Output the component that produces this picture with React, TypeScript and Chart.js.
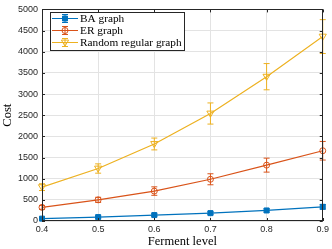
import React, { useEffect, useRef } from "react";
import { Chart, registerables } from "chart.js";

Chart.register(...registerables);

const levels = [0.4, 0.5, 0.6, 0.7, 0.8, 0.9];
const baCost = [56, 93, 140, 186, 249, 335];
const baErr = [20, 25, 30, 35, 40, 55];
const erCost = [322, 500, 707, 986, 1320, 1660];
const erErr = [45, 60, 100, 130, 165, 220];
const rrCost = [800, 1240, 1820, 2540, 3410, 4358];
const rrErr = [80, 110, 140, 250, 310, 400];
const seriesLabels = ["BA graph", "ER graph", "Random regular graph"];
const colors = ["#0072BD", "#D95319", "#EDB120"];
const yTicks = [0, 500, 1000, 1500, 2000, 2500, 3000, 3500, 4000, 4500, 5000];
const xTicks = [0.4, 0.5, 0.6, 0.7, 0.8, 0.9];
const errs = [baErr, erErr, rrErr];

const boxColor = "#262626";

function drawMarker(ctx: CanvasRenderingContext2D, kind: number, x: number, y: number, color: string) {
  ctx.save();
  ctx.strokeStyle = color;
  ctx.fillStyle = color;
  ctx.lineWidth = 1;
  ctx.beginPath();
  if (kind === 0) {
    ctx.rect(x - 2.5, y - 2.5, 5, 5);
    ctx.fill();
    ctx.stroke();
  } else if (kind === 1) {
    ctx.arc(x, y, 3, 0, Math.PI * 2);
    ctx.stroke();
  } else {
    ctx.moveTo(x - 3.6, y - 2.4);
    ctx.lineTo(x + 3.6, y - 2.4);
    ctx.lineTo(x, y + 3.6);
    ctx.closePath();
    ctx.stroke();
  }
  ctx.restore();
}

function drawErr(ctx: CanvasRenderingContext2D, x: number, y1: number, y2: number, color: string) {
  ctx.save();
  ctx.strokeStyle = color;
  ctx.lineWidth = 1;
  ctx.beginPath();
  ctx.moveTo(x, y1);
  ctx.lineTo(x, y2);
  ctx.moveTo(x - 3, y1);
  ctx.lineTo(x + 3, y1);
  ctx.moveTo(x - 3, y2);
  ctx.lineTo(x + 3, y2);
  ctx.stroke();
  ctx.restore();
}

const extras = {
  id: "extras",
  afterDatasetsDraw(chart: any) {
    const ctx = chart.ctx as CanvasRenderingContext2D;
    const xs = chart.scales.x;
    const ys = chart.scales.y;
    const a = chart.chartArea;
    chart.data.datasets.forEach((ds: any, i: number) => {
      ds.data.forEach((p: any, j: number) => {
        const px = xs.getPixelForValue(p.x);
        const e = errs[i][j];
        drawErr(ctx, px, ys.getPixelForValue(p.y + e), ys.getPixelForValue(p.y - e), colors[i]);
        drawMarker(ctx, i, px, ys.getPixelForValue(p.y), colors[i]);
      });
    });
    ctx.save();
    ctx.strokeStyle = boxColor;
    ctx.lineWidth = 1;
    ctx.strokeRect(Math.round(a.left) + 0.5, Math.round(a.top) + 0.5, Math.round(a.right - a.left) - 1, Math.round(a.bottom - a.top) - 1);
    ctx.beginPath();
    xTicks.forEach((t) => {
      const px = Math.round(xs.getPixelForValue(t)) + 0.5;
      ctx.moveTo(px, a.bottom);
      ctx.lineTo(px, a.bottom - 3);
      ctx.moveTo(px, a.top);
      ctx.lineTo(px, a.top + 3);
    });
    yTicks.forEach((t) => {
      const py = Math.round(ys.getPixelForValue(t)) + 0.5;
      ctx.moveTo(a.left, py);
      ctx.lineTo(a.left + 3, py);
      ctx.moveTo(a.right, py);
      ctx.lineTo(a.right - 3, py);
    });
    ctx.stroke();
    ctx.restore();
    const lx = 50.5, ly = 12.5, lw = 134, lh = 38;
    ctx.save();
    ctx.fillStyle = "#ffffff";
    ctx.fillRect(lx, ly, lw, lh);
    ctx.strokeStyle = boxColor;
    ctx.lineWidth = 1;
    ctx.strokeRect(lx, ly, lw, lh);
    ctx.font = "11.3px 'Liberation Serif', serif";
    ctx.textBaseline = "middle";
    ctx.textAlign = "left";
    seriesLabels.forEach((lab, i) => {
      const y = 18.5 + i * 12;
      ctx.strokeStyle = colors[i];
      ctx.lineWidth = 1;
      ctx.beginPath();
      ctx.moveTo(52, y);
      ctx.lineTo(78, y);
      ctx.stroke();
      drawErr(ctx, 65, y - 4, y + 4, colors[i]);
      drawMarker(ctx, i, 65, y, colors[i]);
      ctx.fillStyle = "#000000";
      ctx.fillText(lab, 80, y + 0.5);
    });
    ctx.restore();
  },
};

export default function App() {
  const ref = useRef<HTMLCanvasElement>(null);
  useEffect(() => {
    document.body.style.margin = "0";
    const mk = (vals: number[]) => levels.map((x, i) => ({ x, y: vals[i] }));
    const chart = new Chart(ref.current!, {
      type: "line",
      data: {
        datasets: [baCost, erCost, rrCost].map((v, i) => ({
          label: seriesLabels[i],
          data: mk(v),
          borderColor: colors[i],
          backgroundColor: colors[i],
          borderWidth: 1.2,
          pointRadius: 0,
          fill: false,
          tension: 0,
        })),
      },
      options: {
        responsive: false,
        animation: false,
        layout: { padding: { left: 0, top: 5, right: 9, bottom: 0 } },
        plugins: { legend: { display: false }, tooltip: { enabled: false } },
        scales: {
          x: {
            type: "linear",
            min: 0.4,
            max: 0.9,
            afterBuildTicks: (s: any) => {
              s.ticks = xTicks.map((v) => ({ value: v }));
            },
            afterFit: (s: any) => {
              s.height = 28;
            },
            ticks: {
              callback: (v: any) => Number(v).toFixed(1),
              font: { family: "'Liberation Sans', sans-serif", size: 9 },
              color: boxColor,
              padding: 3,
              maxRotation: 0,
            },
            grid: { color: "#e3e3e3", drawTicks: false, lineWidth: 1 },
            border: { display: false },
            title: {
              display: true,
              text: "Ferment level",
              font: { family: "'Liberation Serif', serif", size: 12.5 },
              color: "#000000",
              padding: { top: 0, bottom: 0 },
            },
          },
          y: {
            type: "linear",
            min: 0,
            max: 5000,
            afterBuildTicks: (s: any) => {
              s.ticks = yTicks.map((v) => ({ value: v }));
            },
            afterFit: (s: any) => {
              s.width = 42;
            },
            ticks: {
              callback: (v: any) => String(v),
              font: { family: "'Liberation Sans', sans-serif", size: 9 },
              color: boxColor,
              padding: 4,
            },
            grid: { color: "#e3e3e3", drawTicks: false, lineWidth: 1 },
            border: { display: false },
            title: {
              display: true,
              text: "Cost",
              font: { family: "'Liberation Serif', serif", size: 12.5 },
              color: "#000000",
              padding: { top: 0, bottom: 0 },
            },
          },
        },
      },
      plugins: [extras],
    } as any);
    return () => chart.destroy();
  }, []);
  return (
    <div style={{ position: "fixed", left: 0, top: 0, width: 332, height: 249 }}>
      <canvas ref={ref} width={332} height={249} style={{ width: 332, height: 249 }} />
    </div>
  );
}
